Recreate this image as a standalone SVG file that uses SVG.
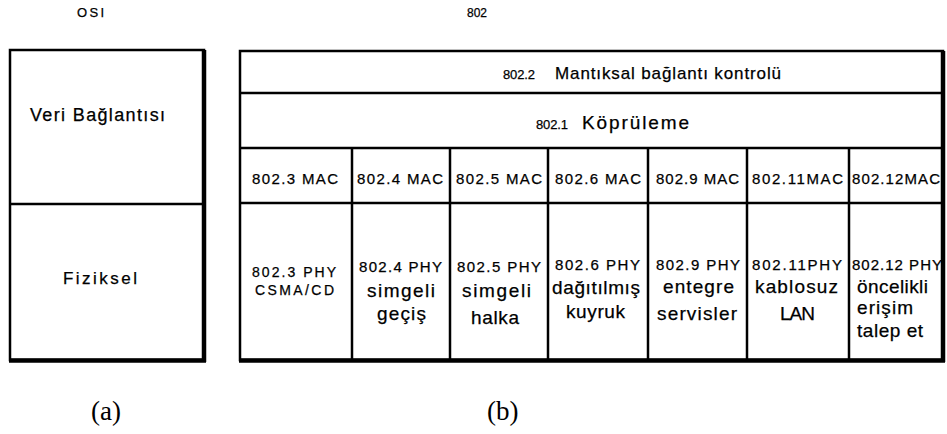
<svg xmlns="http://www.w3.org/2000/svg" width="947" height="434" viewBox="0 0 947 434">
  <style>
    .t { font-family: "Liberation Sans", Arial, sans-serif; fill: #000; stroke: #000; stroke-width: 0.25; }
    .cap { font-family: "Liberation Serif", "Times New Roman", serif; fill: #000; font-size: 27px; }
    .frame { fill: #fff; stroke: #000; stroke-width: 2.5; }
    .rule { stroke: #000; stroke-width: 2.5; fill: none; }
    .heavy { stroke: #000; stroke-width: 4.5; fill: none; }
    .s12 { font-size: 12px; }
    .s13 { font-size: 13px; }
    .s14 { font-size: 14px; }
    .s15 { font-size: 15px; }
    .s17 { font-size: 17px; }
    .s18 { font-size: 18px; }
    .s19 { font-size: 19px; }
  </style>
  <rect width="947" height="434" fill="#fff"/>

  <!-- column headings -->
  <text class="t s13" x="77" y="17" textLength="27" lengthAdjust="spacing">OSI</text>
  <text class="t s12" x="467" y="17" textLength="20" lengthAdjust="spacing">802</text>

  <!-- (a) OSI stack -->
  <g id="osi">
    <rect class="frame" x="10" y="50" width="194" height="310"/>
    <line class="heavy" x1="204" y1="50" x2="204" y2="362"/>
    <line class="heavy" x1="9" y1="360.5" x2="206" y2="360.5"/>
    <line class="rule" x1="10" y1="204" x2="204" y2="204"/>
    <g id="osi-datalink">
      <text class="t s18" x="30" y="121" textLength="135" lengthAdjust="spacing">Veri Bağlantısı</text>
    </g>
    <g id="osi-physical">
      <text class="t s17" x="63" y="284" textLength="74" lengthAdjust="spacing">Fiziksel</text>
    </g>
  </g>

  <!-- (b) IEEE 802 stack -->
  <g id="ieee802">
    <rect class="frame" x="240" y="51" width="703" height="309"/>
    <line class="heavy" x1="943" y1="51" x2="943" y2="362"/>
    <line class="heavy" x1="239" y1="360.5" x2="945" y2="360.5"/>
    <line class="rule" x1="240" y1="93" x2="943" y2="93"/>
    <line class="rule" x1="240" y1="148" x2="943" y2="148"/>
    <line class="rule" x1="240" y1="203" x2="943" y2="203"/>
    <line class="rule" x1="352" y1="148" x2="352" y2="360"/>
    <line class="rule" x1="450" y1="148" x2="450" y2="360"/>
    <line class="rule" x1="548" y1="148" x2="548" y2="360"/>
    <line class="rule" x1="648" y1="148" x2="648" y2="360"/>
    <line class="rule" x1="747" y1="148" x2="747" y2="360"/>
    <line class="rule" x1="849" y1="148" x2="849" y2="360"/>

    <g id="llc">
      <text class="t s13" x="503" y="79" textLength="32" lengthAdjust="spacing">802.2</text>
      <text class="t s17" x="555" y="79" textLength="226" lengthAdjust="spacing">Mantıksal bağlantı kontrolü</text>
    </g>
    <g id="bridging">
      <text class="t s13" x="536" y="129" textLength="32" lengthAdjust="spacing">802.1</text>
      <text class="t s19" x="582" y="129" textLength="107" lengthAdjust="spacing">Köprüleme</text>
    </g>

    <g id="mac-row">
      <text class="t s15" x="252" y="184" textLength="86" lengthAdjust="spacing">802.3 MAC</text>
      <text class="t s15" x="357" y="184" textLength="86" lengthAdjust="spacing">802.4 MAC</text>
      <text class="t s15" x="456" y="184" textLength="86" lengthAdjust="spacing">802.5 MAC</text>
      <text class="t s15" x="555" y="184" textLength="86" lengthAdjust="spacing">802.6 MAC</text>
      <text class="t s15" x="656" y="184" textLength="83" lengthAdjust="spacing">802.9 MAC</text>
      <text class="t s15" x="752" y="184" textLength="91" lengthAdjust="spacing">802.11MAC</text>
      <text class="t s15" x="852" y="184" textLength="88" lengthAdjust="spacing">802.12MAC</text>
    </g>

    <g id="phy-8023">
      <text class="t s14" x="252" y="277" textLength="84" lengthAdjust="spacing">802.3 PHY</text>
      <text class="t s14" x="255" y="295" textLength="79" lengthAdjust="spacing">CSMA/CD</text>
    </g>
    <g id="phy-8024">
      <text class="t s15" x="359" y="272" textLength="83" lengthAdjust="spacing">802.4 PHY</text>
      <text class="t s19" x="367" y="297" textLength="68" lengthAdjust="spacing">simgeli</text>
      <text class="t s19" x="377" y="320" textLength="49" lengthAdjust="spacing">geçiş</text>
    </g>
    <g id="phy-8025">
      <text class="t s15" x="457" y="272" textLength="84" lengthAdjust="spacing">802.5 PHY</text>
      <text class="t s19" x="462" y="297" textLength="69" lengthAdjust="spacing">simgeli</text>
      <text class="t s19" x="471" y="324" textLength="48" lengthAdjust="spacing">halka</text>
    </g>
    <g id="phy-8026">
      <text class="t s15" x="555" y="270" textLength="85" lengthAdjust="spacing">802.6 PHY</text>
      <text class="t s19" x="552" y="294" textLength="88" lengthAdjust="spacing">dağıtılmış</text>
      <text class="t s19" x="566" y="318" textLength="59" lengthAdjust="spacing">kuyruk</text>
    </g>
    <g id="phy-8029">
      <text class="t s15" x="656" y="270" textLength="84" lengthAdjust="spacing">802.9 PHY</text>
      <text class="t s19" x="663" y="293" textLength="71" lengthAdjust="spacing">entegre</text>
      <text class="t s19" x="657" y="320" textLength="80" lengthAdjust="spacing">servisler</text>
    </g>
    <g id="phy-80211">
      <text class="t s15" x="752" y="270" textLength="90" lengthAdjust="spacing">802.11PHY</text>
      <text class="t s19" x="755" y="293" textLength="83" lengthAdjust="spacing">kablosuz</text>
      <text class="t s19" x="780" y="320" textLength="35" lengthAdjust="spacing">LAN</text>
    </g>
    <g id="phy-80212">
      <text class="t s15" x="852" y="270" textLength="90" lengthAdjust="spacing">802.12 PHY</text>
      <text class="t s19" x="857" y="293" textLength="71" lengthAdjust="spacing">öncelikli</text>
      <text class="t s19" x="857" y="314" textLength="56" lengthAdjust="spacing">erişim</text>
      <text class="t s19" x="857" y="337" textLength="66" lengthAdjust="spacing">talep et</text>
    </g>
  </g>

  <!-- panel captions -->
  <text class="cap" x="91" y="420">(a)</text>
  <text class="cap" x="487" y="420">(b)</text>
</svg>
